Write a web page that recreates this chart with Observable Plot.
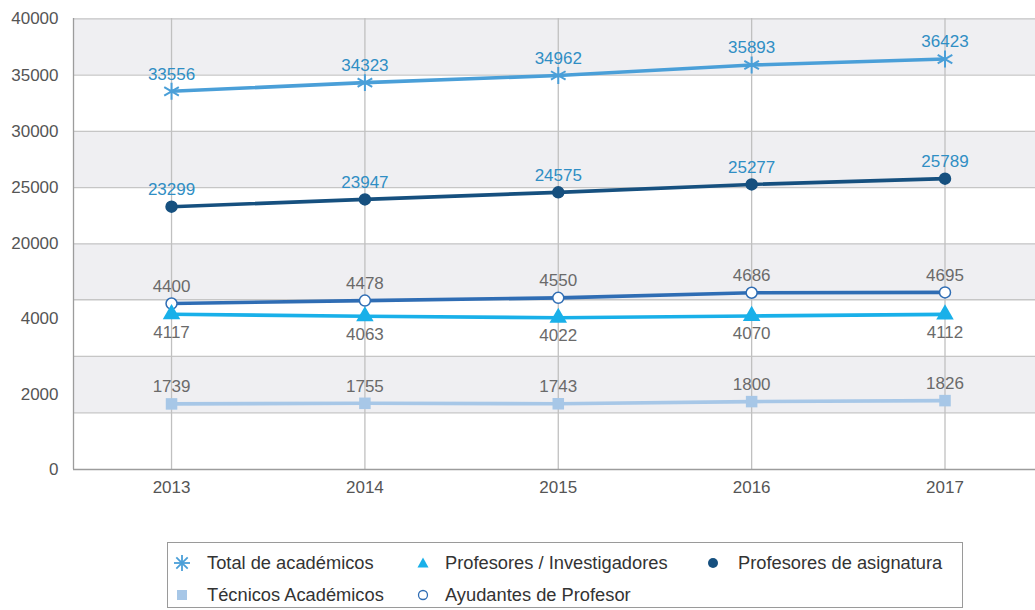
<!DOCTYPE html>
<html>
<head>
<meta charset="utf-8">
<script src="https://cdn.jsdelivr.net/npm/d3@7"></script>
<script src="https://cdn.jsdelivr.net/npm/@observablehq/plot@0.6"></script>
<style>
  html, body { margin: 0; padding: 0; background: #fff; overflow: hidden; }
  #wrap { position: relative; width: 1035px; height: 610px; font-family: "Liberation Sans", Arial, sans-serif; }
  #chart { position: absolute; left: 0; top: 0; }
  #legend { position: absolute; left: 167px; top: 542px; width: 796px; height: 66px; border: 1px solid #9a9a9a; box-sizing: border-box; }
  .sym { position: absolute; width: 18px; height: 18px; }
  .lab { position: absolute; font-size: 18.3px; color: #333; white-space: nowrap; line-height: 20px; }
</style>
</head>
<body>
<div id="wrap">
  <div id="chart"></div>
  <div id="legend"></div>
</div>
<script>
// ---- data ----
const years = [2013, 2014, 2015, 2016, 2017];
const totalAcademicos = [33556, 34323, 34962, 35893, 36423];
const profesoresAsignatura = [23299, 23947, 24575, 25277, 25789];
const ayudantesProfesor = [4400, 4478, 4550, 4686, 4695];
const profesoresInvestigadores = [4117, 4063, 4022, 4070, 4112];
const tecnicosAcademicos = [1739, 1755, 1743, 1800, 1826];
const yTickValues = [0, 2000, 4000, 20000, 25000, 30000, 35000, 40000];
const gridValues = [1500, 3000, 4500, 20000, 25000, 30000, 35000, 40000];
const bandRanges = [[1500, 3000], [4500, 20000], [25000, 30000], [35000, 40000]];

// ---- series definitions ----
const series = [
  {name: "Total de académicos", values: totalAcademicos, color: "#4a9fd8", symbol: "asterisk", labelColor: "#2f8ec4", below: false},
  {name: "Profesores de asignatura", values: profesoresAsignatura, color: "#16507f", symbol: "circle", labelColor: "#2f8ec4", below: false},
  {name: "Ayudantes de Profesor", values: ayudantesProfesor, color: "#2f6db4", symbol: "open", labelColor: "#6a6a6a", below: false},
  {name: "Profesores / Investigadores", values: profesoresInvestigadores, color: "#19b0e9", symbol: "triangle", labelColor: "#6a6a6a", below: true},
  {name: "Técnicos Académicos", values: tecnicosAcademicos, color: "#a7c7e7", symbol: "square", labelColor: "#6a6a6a", below: false}
];
const table = series.flatMap(s => s.values.map((v, i) => ({series: s.name, year: years[i], v, s})));

const xDomain = [years[0] - 0.507, years[years.length - 1] + 0.468];

const marks = [
  Plot.rectY(bandRanges, {y1: d => d[0], y2: d => d[1], fill: "#efeff2"}),
  Plot.ruleY(gridValues, {stroke: "#c6c6c6", strokeWidth: 1.3}),
  Plot.ruleX(years, {stroke: "#c0c0c0", strokeWidth: 1.3}),
  Plot.ruleX([xDomain[0]], {stroke: "#9c9c9c", strokeWidth: 1.3}),
  Plot.ruleY([0], {stroke: "#9c9c9c", strokeWidth: 1.3})
];
for (const s of series) {
  const d = table.filter(r => r.series === s.name);
  marks.push(Plot.line(d, {x: "year", y: "v", stroke: s.color, strokeWidth: 3.6}));
  if (s.symbol === "asterisk") {
    marks.push(Plot.dot(d, {x: "year", y: "v", symbol: "asterisk", r: 8, stroke: s.color, strokeWidth: 2}));
  } else if (s.symbol === "circle") {
    marks.push(Plot.dot(d, {x: "year", y: "v", r: 5.5, fill: s.color, stroke: s.color}));
  } else if (s.symbol === "open") {
    marks.push(Plot.dot(d, {x: "year", y: "v", r: 5.5, fill: "white", stroke: s.color, strokeWidth: 1.5}));
  } else if (s.symbol === "triangle") {
    marks.push(Plot.dot(d, {x: "year", y: "v", symbol: "triangle", r: 6.5, fill: s.color, stroke: "none"}));
  } else if (s.symbol === "square") {
    marks.push(Plot.dot(d, {x: "year", y: "v", symbol: "square", r: 6.5, fill: s.color, stroke: "none"}));
  }
  marks.push(Plot.text(d, {x: "year", y: "v", text: r => String(r.v), dy: s.below ? 18 : -17, fill: s.labelColor, fontSize: 17}));
}

const chart = Plot.plot({
  width: 1035,
  height: 530,
  marginLeft: 73,
  marginRight: 0,
  marginTop: 18,
  marginBottom: 61,
  style: {fontFamily: "'Liberation Sans', Arial, sans-serif", fontSize: "17px", color: "#555", background: "white", overflow: "visible"},
  x: {type: "linear", domain: xDomain, ticks: years, tickFormat: d => String(d), tickSize: 0, tickPadding: 11, label: null},
  y: {type: "linear", domain: [0, 5000, 20000, 40000], range: [469, 280.4, 243.3, 18.3], ticks: yTickValues, tickFormat: d => String(d), tickSize: 0, tickPadding: 15, label: null},
  marks
});
document.getElementById("chart").appendChild(chart);

// ---- legend ----
const legendSym = {
  asterisk: c => `<svg width="18" height="18" viewBox="-9 -9 18 18"><g stroke="${c}" stroke-width="1.8"><line x1="0" y1="-8" x2="0" y2="8"/><line x1="-8" y1="0" x2="8" y2="0"/><line x1="-5.7" y1="-5.7" x2="5.7" y2="5.7"/><line x1="-5.7" y1="5.7" x2="5.7" y2="-5.7"/></g></svg>`,
  circle: c => `<svg width="18" height="18" viewBox="-9 -9 18 18"><circle r="5" fill="${c}"/></svg>`,
  open: c => `<svg width="18" height="18" viewBox="-9 -9 18 18"><circle r="4.5" fill="white" stroke="${c}" stroke-width="1.3"/></svg>`,
  triangle: c => `<svg width="18" height="18" viewBox="-9 -9 18 18"><path d="M0,-5.5L5.5,4.5L-5.5,4.5Z" fill="${c}"/></svg>`,
  square: c => `<svg width="18" height="18" viewBox="-9 -9 18 18"><rect x="-5" y="-5" width="10" height="10" fill="${c}"/></svg>`
};
// symbol centre and text start, relative to legend box inner edge
const legendLayout = [
  {name: "Total de académicos", sx: 14, tx: 39, row: 0},
  {name: "Profesores / Investigadores", sx: 255, tx: 277, row: 0},
  {name: "Profesores de asignatura", sx: 545, tx: 570, row: 0},
  {name: "Técnicos Académicos", sx: 14, tx: 39, row: 1},
  {name: "Ayudantes de Profesor", sx: 255, tx: 277, row: 1}
];
const legend = document.getElementById("legend");
for (const L of legendLayout) {
  const s = series.find(x => x.name === L.name);
  const cy = L.row === 0 ? 20 : 52;
  const sym = document.createElement("div");
  sym.className = "sym";
  sym.style.left = (L.sx - 9) + "px";
  sym.style.top = (cy - 9) + "px";
  sym.innerHTML = legendSym[s.symbol](s.color);
  legend.appendChild(sym);
  const lab = document.createElement("div");
  lab.className = "lab";
  lab.style.left = L.tx + "px";
  lab.style.top = (cy - 10) + "px";
  lab.textContent = s.name;
  legend.appendChild(lab);
}
</script>
</body>
</html>
